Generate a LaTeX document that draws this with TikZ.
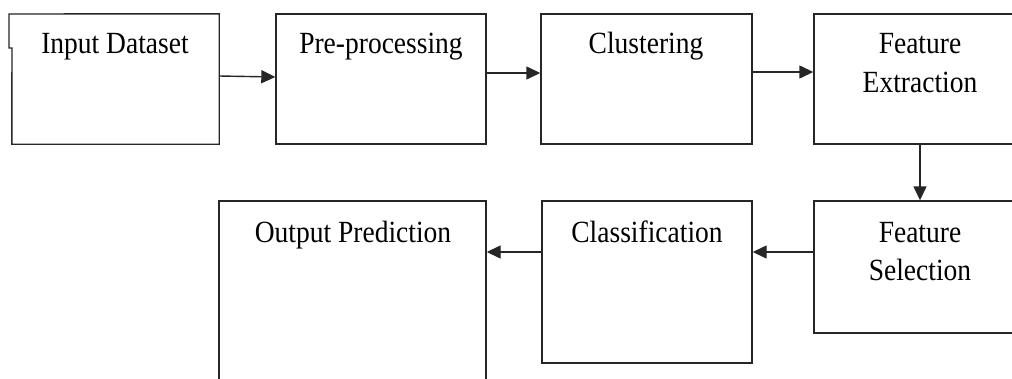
\documentclass[tikz,border=0pt]{standalone}
\usepackage{fontspec}
\setmainfont{Liberation Serif}
\usetikzlibrary{arrows.meta}
\newcommand{\st}[1]{\scalebox{1}[1.12]{#1}}
\begin{document}
\begin{tikzpicture}[x=1pt,y=-1pt,
  box/.style={draw=black!85, line width=1.4pt, inner sep=0pt},
  edge/.style={draw=black!85, line width=1.4pt},
  lbl/.style={anchor=base, inner sep=0pt, font=\fontsize{27.5}{33}\selectfont},
  arr/.style={line width=1.4pt, draw=black!85, -{Triangle[length=14pt,width=13pt]}}]
\useasboundingbox (0,0) rectangle (1012,378);
\clip (0,0) rectangle (1012,378);
\fill[white] (0,0) rectangle (1012,378);
% boxes
\node[inner sep=0pt, minimum width=207pt, minimum height=130pt] (in) at (115.5,79) {};
\draw[edge] (9,48) -- (9,14) -- (in.north east) -- (in.south east) -- (in.south west) -- (12,48) -- cycle;
\node[box, minimum width=210pt, minimum height=130pt] (pp) at (381,79) {};
\node[box, minimum width=211pt, minimum height=130pt] (cl) at (646.5,79) {};
\node[box, minimum width=212pt, minimum height=130pt] (fe) at (920,79) {};
\node[box, minimum width=212pt, minimum height=132pt] (fs) at (920,267) {};
\node[box, minimum width=210pt, minimum height=162pt] (cf) at (647,282) {};
\node[box, minimum width=267pt, minimum height=219pt] (op) at (352.5,310.5) {};
% labels
\node[lbl] (tin) at (115,53) {\st{Input Dataset}};
\node[lbl] (tpp) at (381,53) {\st{Pre-processing}};
\node[lbl] (tcl) at (646,53) {\st{Clustering}};
\node[lbl] (tfe1) at (920,53) {\st{Feature}};
\node[lbl] (tfe2) at (920,92) {\st{Extraction}};
\node[lbl] (tfs1) at (920,242) {\st{Feature}};
\node[lbl] (tfs2) at (920,280) {\st{Selection}};
\node[lbl] (tcf) at (647,242) {\st{Classification}};
\node[lbl] (top) at (353,242) {\st{Output Prediction}};
% connectors
\draw[arr] ([yshift=3pt]in.east) -- ([yshift=2pt]pp.west);
\draw[arr] ([yshift=6pt]pp.east) -- ([yshift=6pt]cl.west);
\draw[arr] ([yshift=7pt]cl.east) -- ([yshift=7pt]fe.west);
\draw[arr] (fe.south) -- (fs.north);
\draw[arr] ([yshift=15pt]fs.west) -- ([yshift=15pt]fs.west -| cf.east);
\draw[arr] ([yshift=30pt]cf.west) -- ([yshift=30pt]cf.west -| op.east);
\end{tikzpicture}
\end{document}
